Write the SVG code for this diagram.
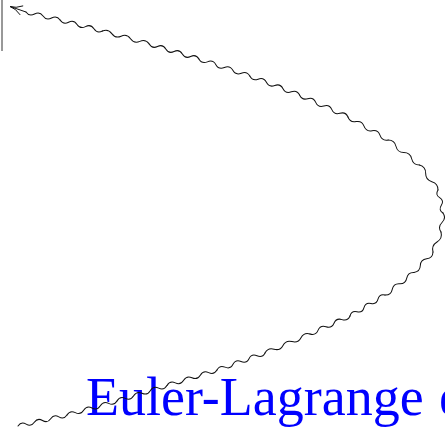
<svg xmlns="http://www.w3.org/2000/svg" width="445" height="427" viewBox="0 0 445 427">
<style>
.w{fill:none;stroke:#111;stroke-width:1;stroke-linecap:round;stroke-linejoin:round}
.lbl{font-family:"Liberation Serif","DejaVu Serif",serif;font-size:54px;fill:#0000ff}
</style>
<rect width="445" height="427" fill="#fff"/>
<g id="frame-edge">
<line x1="2" y1="0" x2="2" y2="51" stroke="#333" stroke-width="1"/>
</g>
<g id="label">
<text class="lbl" x="86" y="415">Euler-Lagrange <tspan x="439">e</tspan></text>
</g>
<g id="connectors">
<path class="w" transform="translate(18,426) rotate(-12.65)" d="M0 0q4.18 -4 8.37 0t8.37 0t8.37 0t8.37 0t8.37 0t8.37 0"/>
<path class="w" transform="translate(67,415) rotate(-15.64)" d="M0 0q4.33 -4 8.65 0t8.65 0t8.65 0t8.65 0t8.65 0t8.65 0"/>
<path class="w" transform="translate(117,401) rotate(-17.22)" d="M0 0q4.36 -4 8.72 0t8.72 0t8.72 0t8.72 0t8.72 0t8.72 0"/>
<path class="w" transform="translate(167,385.5) rotate(-17.22)" d="M0 0q4.36 -4 8.72 0t8.72 0t8.72 0t8.72 0t8.72 0t8.72 0"/>
<path class="w" transform="translate(217,370) rotate(-19.5)" d="M0 0q4.24 -4 8.49 0t8.49 0t8.49 0t8.49 0t8.49 0t8.49 0"/>
<path class="w" transform="translate(265,353) rotate(-22.89)" d="M0 0q4.88 -4 9.77 0t9.77 0t9.77 0t9.77 0t9.77 0"/>
<path class="w" transform="translate(310,334) rotate(-24.23)" d="M0 0q4.39 4 8.77 0t8.77 0t8.77 0t8.77 0t8.77 0"/>
<path class="w" transform="translate(350,316) rotate(-30.96)" d="M0 0q4.08 -4 8.16 0t8.16 0t8.16 0t8.16 0t8.16 0"/>
<path class="w" transform="translate(385,295) rotate(-37.93)" d="M0 0q4.6 4 9.19 0t9.19 0t9.19 0t9.19 0"/>
<path class="w" transform="translate(414,272.4) rotate(-47.03)" d="M0 0q4.65 4 9.29 0t9.29 0t9.29 0"/>
<path class="w" transform="translate(433,252) rotate(-68.2)" d="M0 0q5.39 -4 10.77 0t10.77 0"/>
<path class="w" transform="translate(441,232) rotate(-84)" d="M0 0q4.78 -4 9.55 0t9.55 0"/>
<path class="w" transform="translate(443,213) rotate(-102.26)" d="M0 0q3.92 -4 7.85 0t7.85 0t7.85 0"/>
<path class="w" transform="translate(438,190) rotate(-126.5)" d="M0 0q5.18 4 10.37 0t10.37 0t10.37 0"/>
<path class="w" transform="translate(419.5,165) rotate(-141.47)" d="M0 0q5.02 -4 10.03 0t10.03 0t10.03 0t10.03 0"/>
<path class="w" transform="translate(388.1,140) rotate(-150.16)" d="M0 0q4.62 -4 9.25 0t9.25 0t9.25 0t9.25 0t9.25 0"/>
<path class="w" transform="translate(348,117) rotate(-155.56)" d="M0 0q4.43 4 8.86 0t8.86 0t8.86 0t8.86 0t8.86 0t8.86 0"/>
<path class="w" transform="translate(299.6,95) rotate(-159.12)" d="M0 0q4.44 4 8.88 0t8.88 0t8.88 0t8.88 0t8.88 0t8.88 0"/>
<path class="w" transform="translate(249.8,76) rotate(-161.53)" d="M0 0q4.47 4 8.94 0t8.94 0t8.94 0t8.94 0t8.94 0t8.94 0"/>
<path class="w" transform="translate(198.9,59) rotate(-163.21)" d="M0 0q4.33 4 8.65 0t8.65 0t8.65 0t8.65 0t8.65 0t8.65 0"/>
<path class="w" transform="translate(149.2,44) rotate(-164.48)" d="M0 0q4.86 4 9.71 0t9.71 0t9.71 0t9.71 0t9.71 0"/>
<path class="w" transform="translate(102.4,31) rotate(-165.42)" d="M0 0q4.37 -4 8.74 0t8.74 0t8.74 0t8.74 0t8.74 0"/>
<path class="w" transform="translate(60.1,20) rotate(-166.8)" d="M0 0q4.38 4 8.76 0t8.76 0t8.76 0t8.76 0"/>
<path class="w" d="M26 12L10.5 6.6"/>
<path class="w" d="M22.8 6Q15.7 8.4 10 6.5Q15.7 8.4 20 14.6"/>
</g>
</svg>
